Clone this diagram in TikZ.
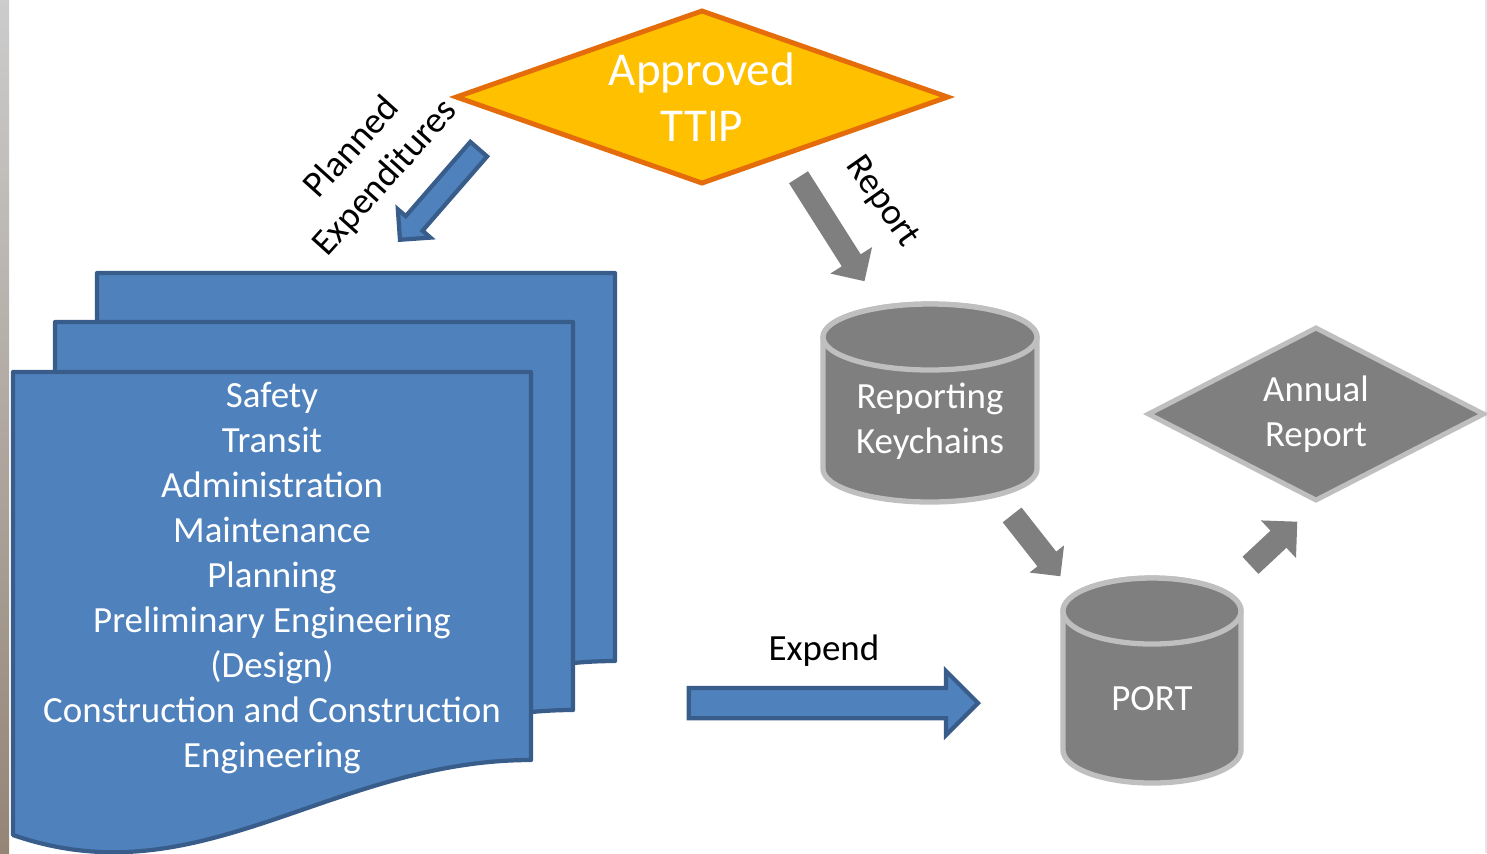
\documentclass[tikz,border=0pt]{standalone}
\usepackage{fontspec}
\setmainfont{Carlito}
\usetikzlibrary{shapes.geometric,shapes.arrows}

\definecolor{docblue}{HTML}{4F81BD}
\definecolor{docedge}{HTML}{385D8A}
\definecolor{ttipfill}{HTML}{FFC000}
\definecolor{ttipedge}{HTML}{E46C0A}
\definecolor{dbgray}{HTML}{7F7F7F}
\definecolor{rimgray}{HTML}{BFBFBF}

\tikzset{
  docsheet/.style={fill=docblue, draw=docedge, line width=1.2pt, line join=round},
  docpage/.pic={
    \draw[docsheet] (0,0) -- (518,0) -- (518,-388)
      .. controls (317,-388) and (187,-528) .. (0,-463) -- cycle;
  },
  dbbody/.style={fill=dbgray, draw=rimgray, line width=1.5pt},
  txt/.style={font=\fontsize{10.5}{12.8}\selectfont, align=center},
  intxt/.style={txt, text=white},
  bluearrow/.style={single arrow, fill=docblue, draw=docedge, line width=1.2pt, inner xsep=0pt, anchor=tip},
  grayarrow/.style={single arrow, fill=dbgray, inner xsep=0pt, anchor=tip}
}

\begin{document}
\begin{tikzpicture}[x=0.01cm, y=0.01cm]
  \useasboundingbox (0,0) rectangle (1487,-853);
  % edge of the slide
  \shade[top color=black!20, bottom color=brown!40!black!60] (0,0) rectangle (9,-853);
  \draw[black!10] (1486,0) -- (1486,-853);

  % stacked documents
  \pic at (97,-273) {docpage};
  \pic at (55,-322) {docpage};
  \pic at (13,-372) {docpage};
  \node[intxt] (doclist) at (272,-578) {Safety\\Transit\\Administration\\Maintenance\\Planning\\Preliminary Engineering\\(Design)\\Construction and Construction\\Engineering};

  % approved TTIP
  \node[diamond, fill=ttipfill, draw=ttipedge, line width=1.4pt, inner sep=0pt,
        aspect=2.83, minimum width=4.93cm, minimum height=1.74cm, text=white,
        font=\fontsize{13.4}{15.9}\selectfont, align=center] (ttip) at (702,-97) {Approved\\TTIP};

  % databases
  \draw[dbbody] (823,-337) -- (823,-469) arc[start angle=180, end angle=360, x radius=107, y radius=33]
    -- (1037,-337) arc[start angle=0, end angle=180, x radius=107, y radius=33] -- cycle;
  \draw[dbbody] (930,-337) ellipse[x radius=107, y radius=33];
  \node[intxt] (keychains) at (930,-421) {Reporting\\Keychains};

  \draw[dbbody] (1063,-611) -- (1063,-750) arc[start angle=180, end angle=360, x radius=89, y radius=33]
    -- (1241,-611) arc[start angle=0, end angle=180, x radius=89, y radius=33] -- cycle;
  \draw[dbbody] (1152,-611) ellipse[x radius=89, y radius=33];
  \node[intxt] (port) at (1152,-699) {PORT};

  % annual report
  \node[diamond, fill=dbgray, draw=rimgray, line width=1.4pt, inner sep=0pt,
        aspect=1.94, minimum width=3.37cm, minimum height=1.74cm, intxt] (annual) at (1316,-414) {Annual\\Report};

  % block arrows
  \node[bluearrow, minimum height=1.20cm, inner ysep=0.09cm, single arrow head extend=0.105cm,
        rotate=-131] (plannedarrow) at (398,-242) {};
  \node[grayarrow, minimum height=1.23cm, inner ysep=0.105cm, single arrow head extend=0.135cm,
        rotate=-57.6] (reportarrow) at (865,-282) {};
  \node[grayarrow, minimum height=0.78cm, inner ysep=0.1125cm, single arrow head extend=0.10cm,
        rotate=-51.8] (keyarrow) at (1061,-577) {};
  \node[grayarrow, minimum height=0.64cm, inner ysep=0.11cm, single arrow head extend=0.14cm,
        rotate=43] (annualarrow) at (1298,-521) {};
  \node[bluearrow, minimum height=2.89cm, inner ysep=0.13cm, single arrow head extend=0.17cm]
        (expendarrow) at (981,-703) {};

  % labels
  \node[txt, rotate=48] (plannedlbl) at (369,-163) {Planned\\Expenditures};
  \node[txt, rotate=-55] (reportlbl) at (882,-202) {Report};
  \node[txt] (expendlbl) at (824,-651) {Expend};
\end{tikzpicture}
\end{document}
